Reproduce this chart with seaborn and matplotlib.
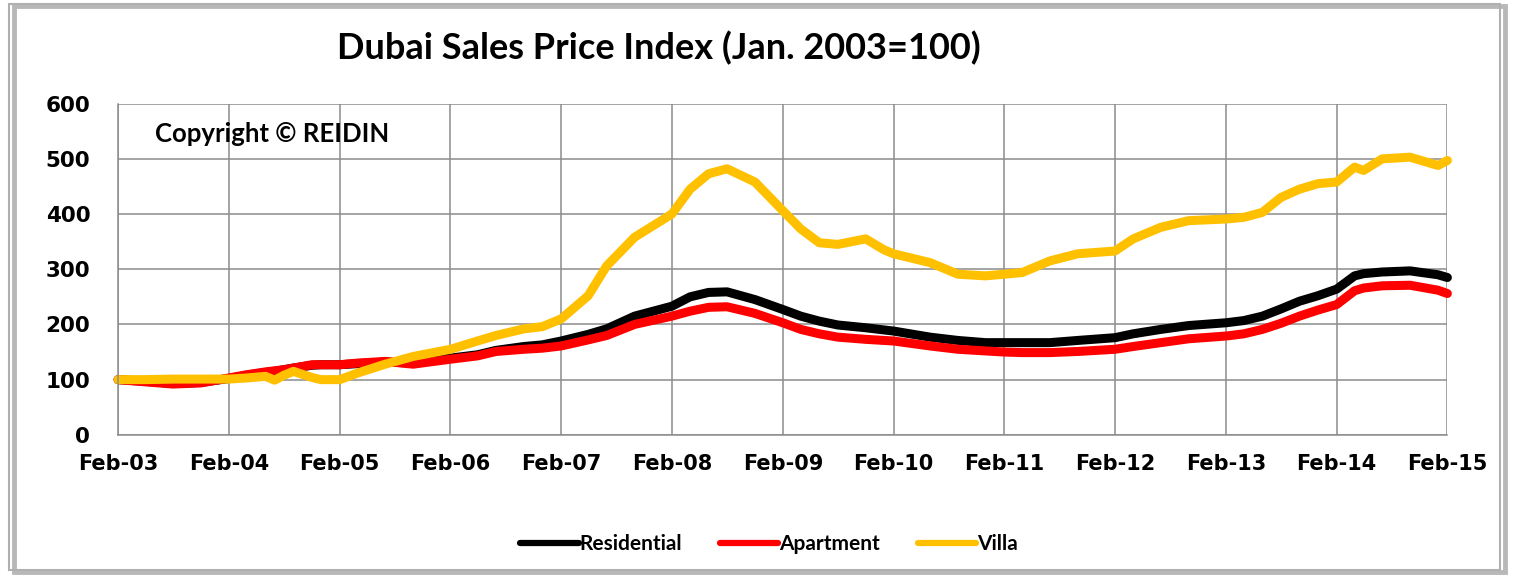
import pandas as pd
import matplotlib.pyplot as plt
import matplotlib.dates as mdates
from matplotlib.patches import Rectangle
import seaborn as sns

# === Data (index, Jan. 2003 = 100) ===
months = ["2003-02", "2003-05", "2003-08", "2003-11", "2004-02", "2004-04", "2004-06",
          "2004-07", "2004-08", "2004-09", "2004-11", "2004-12", "2005-02", "2005-04",
          "2005-07", "2005-10", "2006-02", "2006-05", "2006-07", "2006-10", "2006-12",
          "2007-02", "2007-05", "2007-07", "2007-10", "2008-02", "2008-04", "2008-06",
          "2008-08", "2008-11", "2009-02", "2009-04", "2009-06", "2009-08", "2009-11",
          "2010-01", "2010-02", "2010-06", "2010-09", "2010-12", "2011-02", "2011-04",
          "2011-07", "2011-10", "2012-02", "2012-04", "2012-07", "2012-10", "2013-02",
          "2013-04", "2013-06", "2013-08", "2013-10", "2013-12", "2014-02", "2014-04",
          "2014-05", "2014-07", "2014-10", "2015-01", "2015-02"]

residential = [100, 97, 93, 95, 102, 108, 113, 115, 118, 121, 126, 127, 127, 129,
               132, 130, 139, 145, 153, 160, 163, 170, 182, 192, 215, 233, 250, 258,
               259, 245, 227, 215, 206, 199, 194, 190, 188, 177, 171, 167, 167, 167,
               167, 171, 176, 183, 191, 198, 203, 207, 215, 228, 242, 252, 264, 288,
               292, 295, 297, 290, 285]

apartment = [100, 96, 92, 94, 103, 109, 114, 116, 118, 121, 127, 127, 127, 130,
             133, 128, 137, 143, 151, 155, 157, 161, 172, 180, 200, 215, 224, 231,
             232, 220, 203, 191, 183, 177, 173, 171, 170, 161, 155, 152, 150, 149,
             149, 151, 155, 160, 167, 174, 179, 183, 191, 202, 215, 226, 236, 261,
             266, 270, 271, 262, 256]

villa = [100, 100, 101, 101, 101, 103, 106, 99, 108, 115, 104, 100, 100, 112,
         128, 142, 155, 170, 180, 192, 196, 210, 252, 306, 358, 400, 445, 473,
         482, 458, 406, 373, 348, 345, 355, 335, 328, 312, 291, 288, 291, 294,
         315, 328, 333, 355, 376, 388, 391, 394, 403, 430, 445, 455, 458, 485,
         479, 500, 503, 488, 497]

series = ["Residential", "Apartment", "Villa"]
colors = ["#000000", "#ff0000", "#ffc000"]
year_ticks = ["2003-02", "2004-02", "2005-02", "2006-02", "2007-02", "2008-02", "2009-02",
              "2010-02", "2011-02", "2012-02", "2013-02", "2014-02", "2015-02"]

dates = pd.to_datetime(months)
df = pd.DataFrame({"Date": list(dates) * 3,
                   "Index": residential + apartment + villa,
                   "Series": [s for s in series for _ in months]})

# === Plot ===
sns.set_style("white")
plt.rcParams["text.color"] = "black"
plt.rcParams["xtick.labelcolor"] = "black"
plt.rcParams["ytick.labelcolor"] = "black"

fig = plt.figure(figsize=(15.14, 5.79), dpi=100)
ax = fig.add_axes([0.078, 0.249, 0.878, 0.572])

sns.lineplot(data=df, x="Date", y="Index", hue="Series", hue_order=series,
             palette=colors, linewidth=6.5, ax=ax, legend=False)
for line in ax.get_lines():
    line.set_solid_capstyle("round")
    line.set_solid_joinstyle("round")
    line.set_clip_on(False)

ax.set_xlim(pd.Timestamp("2003-02-01"), pd.Timestamp("2015-02-01"))
ax.set_ylim(0, 600)
ax.set_yticks(range(0, 601, 100))
ax.set_xticks(pd.to_datetime(year_ticks))
ax.xaxis.set_major_formatter(mdates.DateFormatter("%b-%y"))
ax.grid(True, color="#8c8c8c", linewidth=1.1)
ax.set_axisbelow(True)
for side in ["top", "right"]:
    ax.spines[side].set_visible(False)
for side in ["left", "bottom"]:
    ax.spines[side].set_color("#8c8c8c")
    ax.spines[side].set_linewidth(1.1)
ax.tick_params(axis="y", length=8, color="#8c8c8c", labelcolor="black", labelsize=15.5, pad=12)
ax.tick_params(axis="x", length=0, labelcolor="black", labelsize=15, pad=14)
for lab in ax.get_xticklabels() + ax.get_yticklabels():
    lab.set_fontweight("bold")
ax.set_xlabel("")
ax.set_ylabel("")

fig.text(0.435, 0.917, "Dubai Sales Price Index (Jan. 2003=100)", family="Lato",
         fontsize=26, fontweight="bold", ha="center", va="center", color="black")
ax.text(0.028, 0.908, "Copyright \u00a9 REIDIN", transform=ax.transAxes, family="Lato",
        fontsize=18.5, fontweight="bold", ha="left", va="center", color="black")

handles = ax.get_lines()[:3]
leg = fig.legend(handles, series, loc="center", bbox_to_anchor=(0.508, 0.06), ncol=3,
                 frameon=False, handlelength=2.8, handletextpad=0.05, columnspacing=1.8,
                 prop={"family": "Lato", "weight": "bold", "size": 15})
for h in leg.get_lines():
    h.set_linewidth(4.5)

# === Chart frame with a light shadow ===
fig.patches.append(Rectangle((0.009, 0.012), 0.985, 0.977, transform=fig.transFigure,
                             fill=False, edgecolor="#7f7f7f", linewidth=3.5, alpha=0.55))
fig.patches.append(Rectangle((0.006, 0.016), 0.985, 0.977, transform=fig.transFigure,
                             fill=False, edgecolor="#b0b0b0", linewidth=1.5))

fig.savefig("out.png", dpi=100)
